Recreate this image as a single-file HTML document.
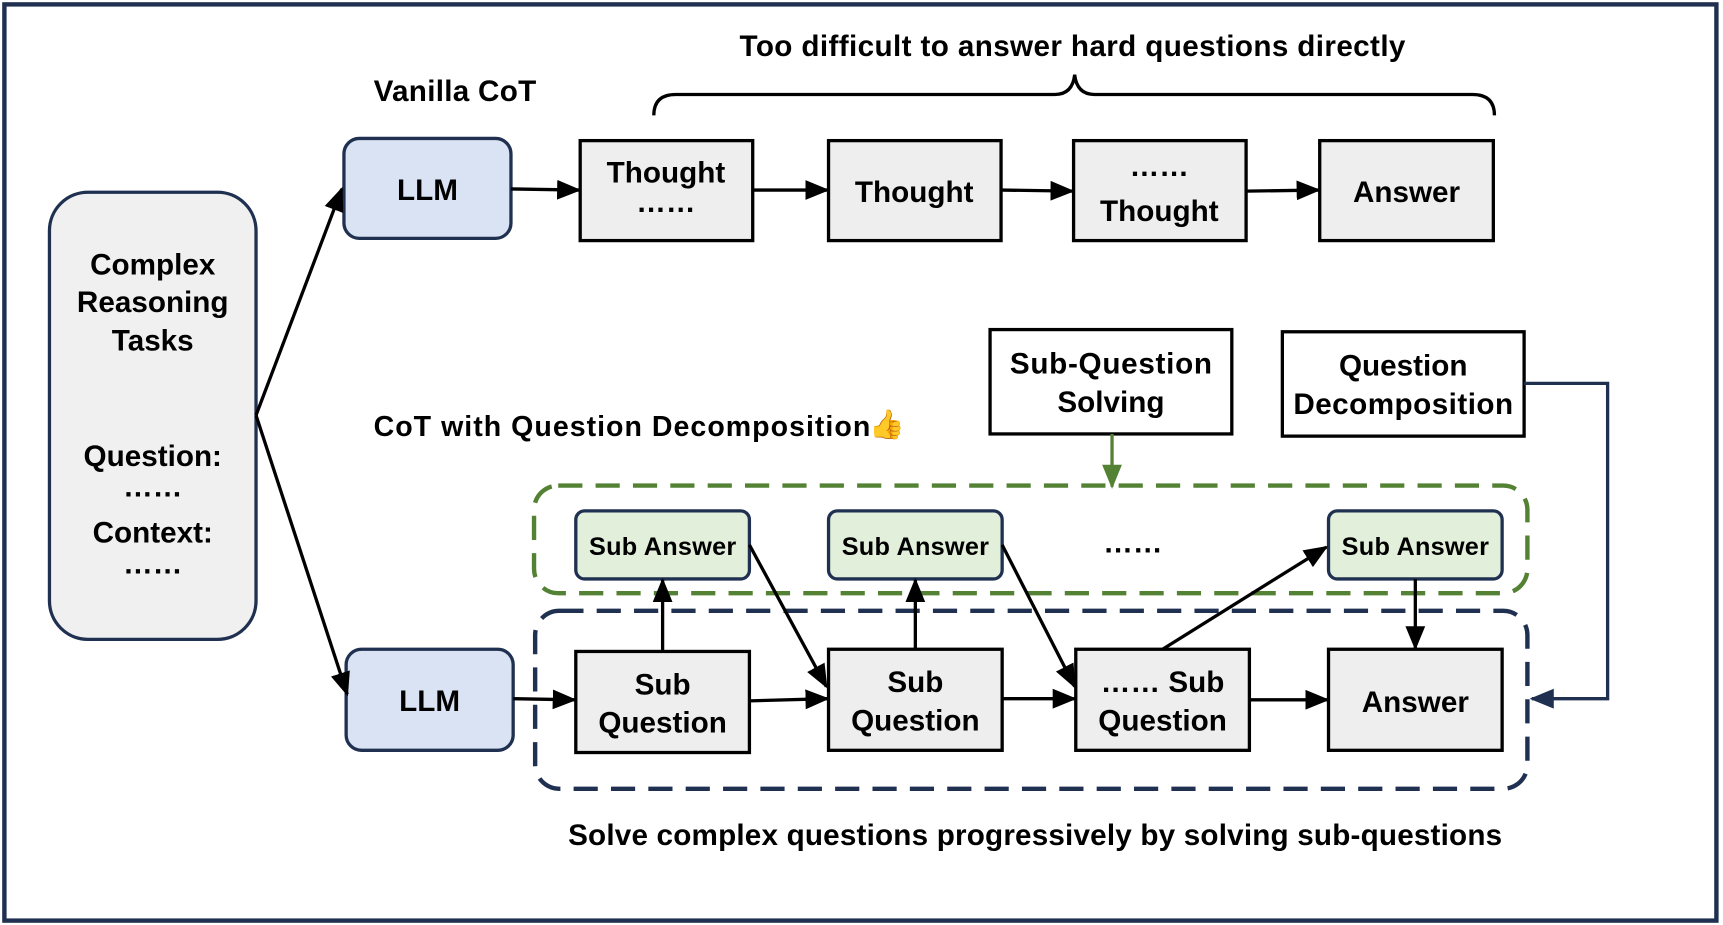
<!DOCTYPE html>
<html><head><meta charset="utf-8"><style>
html,body{margin:0;padding:0;background:#fff;}
svg{display:block;}
text{font-family:"Liberation Sans","DejaVu Sans",sans-serif;font-size:27px;font-weight:bold;text-anchor:middle;fill:#000;}
</style></head><body>
<svg width="1723" height="925" viewBox="0 0 1568 842" preserveAspectRatio="none" xmlns="http://www.w3.org/2000/svg">
<defs>
<marker id="an" markerWidth="22" markerHeight="22" refX="20" refY="11" orient="auto" markerUnits="userSpaceOnUse"><path d="M0,2 L22,11 L0,20 z" fill="#000"/></marker>
<marker id="ab" markerWidth="22" markerHeight="22" refX="20" refY="11" orient="auto" markerUnits="userSpaceOnUse"><path d="M0,2 L22,11 L0,20 z" fill="#1f3050"/></marker>
<marker id="ag" markerWidth="22" markerHeight="22" refX="20" refY="11" orient="auto" markerUnits="userSpaceOnUse"><path d="M0,2 L22,11 L0,20 z" fill="#548235"/></marker>
</defs>
<rect x="4" y="4" width="1558" height="834" fill="#fff" stroke="#1f3050" stroke-width="4"/>
<rect x="45" y="175" width="188" height="407" rx="35" fill="#f0f0f0" stroke="#1f3050" stroke-width="3"/>
<text x="139" y="250">Complex</text><text x="139" y="284">Reasoning</text><text x="139" y="319">Tasks</text>
<text x="139" y="424">Question:</text><text x="139" y="452">……</text>
<text x="139" y="494">Context:</text><text x="139" y="522">……</text>
<text x="414" y="92" textLength="148">Vanilla CoT</text>
<text x="976" y="51" textLength="606">Too difficult to answer hard questions directly</text>
<path d="M595,105 Q595,86 615,86 L960,86 Q976,86 978,68 Q980,86 996,86 L1340,86 Q1360,86 1360,105" fill="none" stroke="#000" stroke-width="3"/>
<rect x="313" y="126" width="152" height="91" rx="14" fill="#dae3f3" stroke="#1f3050" stroke-width="3"/><text x="389" y="182">LLM</text>
<rect x="315" y="591" width="152" height="92" rx="14" fill="#dae3f3" stroke="#1f3050" stroke-width="3"/><text x="391" y="647">LLM</text>
<g fill="#eeeeee" stroke="#000" stroke-width="3">
<rect x="528" y="128" width="157" height="91"/><rect x="754" y="128" width="157" height="91"/><rect x="977" y="128" width="157" height="91"/><rect x="1201" y="128" width="158" height="91"/>
</g>
<text x="606" y="166">Thought</text><text x="606" y="193">……</text>
<text x="832" y="184">Thought</text>
<text x="1055" y="160">……</text><text x="1055" y="201">Thought</text>
<text x="1280" y="184">Answer</text>
<g stroke="#000" stroke-width="3" fill="none">
<line x1="233" y1="378" x2="311" y2="172" marker-end="url(#an)"/>
<line x1="233" y1="378" x2="316" y2="632" marker-end="url(#an)"/>
<line x1="465" y1="172" x2="527" y2="173" marker-end="url(#an)"/>
<line x1="685" y1="173" x2="753" y2="173" marker-end="url(#an)"/>
<line x1="911" y1="173" x2="976" y2="174" marker-end="url(#an)"/>
<line x1="1134" y1="174" x2="1200" y2="173" marker-end="url(#an)"/>
</g>
<rect x="901" y="300" width="220" height="95" fill="#fff" stroke="#000" stroke-width="3"/>
<text x="1011" y="340" textLength="184">Sub-Question</text><text x="1011" y="375">Solving</text>
<rect x="1167" y="302" width="220" height="95" fill="#fff" stroke="#000" stroke-width="3"/>
<text x="1277" y="342">Question</text><text x="1277" y="377" textLength="200">Decomposition</text>
<text x="340" y="397" style="text-anchor:start;font-size:26px" textLength="452">CoT with Question Decomposition</text>
<text x="807" y="395" style="font-size:26px;font-weight:normal">👍</text>
<line x1="1012" y1="395" x2="1012" y2="443" stroke="#548235" stroke-width="3" marker-end="url(#ag)"/>
<path d="M1387,349 L1463,349 L1463,636 L1394,636" fill="none" stroke="#1f3050" stroke-width="3" marker-end="url(#ab)"/>
<rect x="486" y="442" width="904" height="98" rx="22" fill="none" stroke="#548235" stroke-width="4" stroke-dasharray="22,12"/>
<rect x="487" y="556" width="903" height="162" rx="22" fill="none" stroke="#1f3050" stroke-width="4" stroke-dasharray="22,12"/>
<g fill="#e2efda" stroke="#1f3050" stroke-width="3">
<rect x="524" y="465" width="158" height="62" rx="8"/><rect x="754" y="465" width="158" height="62" rx="8"/><rect x="1209" y="465" width="158" height="62" rx="8"/>
</g>
<text x="603" y="505" style="font-size:23px" textLength="134">Sub Answer</text><text x="833" y="505" style="font-size:23px" textLength="134">Sub Answer</text><text x="1288" y="505" style="font-size:23px" textLength="134">Sub Answer</text>
<text x="1031" y="503">……</text>
<g fill="#eeeeee" stroke="#000" stroke-width="3">
<rect x="524" y="593" width="158" height="92"/><rect x="754" y="591" width="158" height="92"/><rect x="979" y="591" width="158" height="92"/><rect x="1209" y="591" width="158" height="92"/>
</g>
<text x="603" y="632">Sub</text><text x="603" y="667">Question</text>
<text x="833" y="630">Sub</text><text x="833" y="665">Question</text>
<text x="1058" y="630">…… Sub</text><text x="1058" y="665">Question</text>
<text x="1288" y="648">Answer</text>
<g stroke="#000" stroke-width="3" fill="none">
<line x1="467" y1="636" x2="523" y2="637" marker-end="url(#an)"/>
<line x1="682" y1="638" x2="753" y2="636" marker-end="url(#an)"/>
<line x1="912" y1="636" x2="978" y2="636" marker-end="url(#an)"/>
<line x1="1137" y1="637" x2="1208" y2="637" marker-end="url(#an)"/>
<line x1="603" y1="593" x2="603" y2="528" marker-end="url(#an)"/>
<line x1="833" y1="591" x2="833" y2="528" marker-end="url(#an)"/>
<line x1="682" y1="496" x2="752" y2="625" marker-end="url(#an)"/>
<line x1="912" y1="496" x2="978" y2="625" marker-end="url(#an)"/>
<line x1="1058" y1="591" x2="1207" y2="498" marker-end="url(#an)"/>
<line x1="1288" y1="527" x2="1288" y2="590" marker-end="url(#an)"/>
</g>
<text x="942" y="769" textLength="850">Solve complex questions progressively by solving sub-questions</text>
</svg>
</body></html>
